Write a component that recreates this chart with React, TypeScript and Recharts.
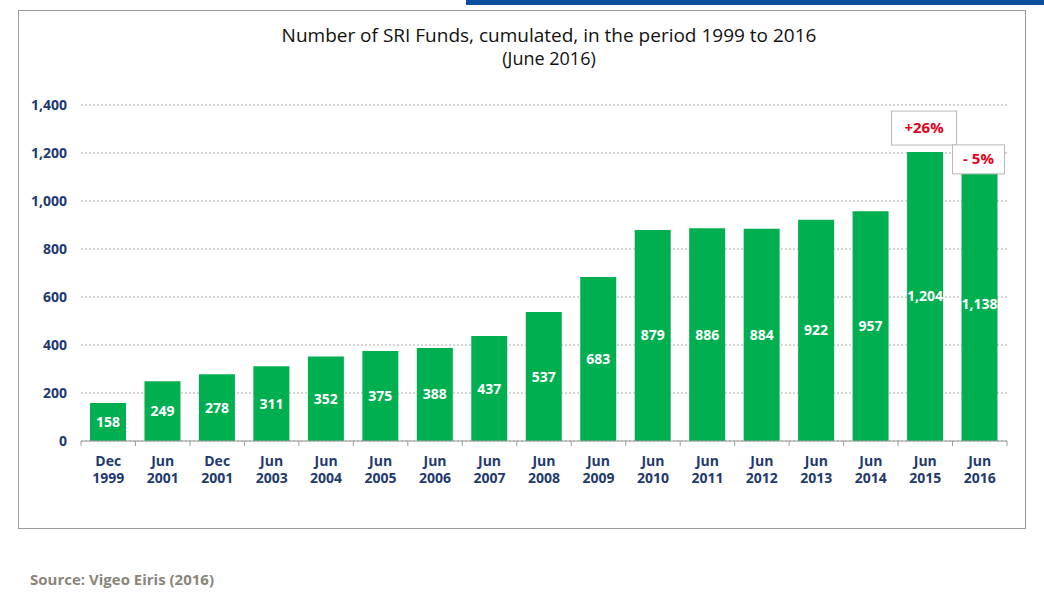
import React from "react"
import { BarChart, Bar, XAxis, YAxis, CartesianGrid, LabelList } from "recharts"

const periods = [
  "Dec 1999", "Jun 2001", "Dec 2001", "Jun 2003", "Jun 2004", "Jun 2005",
  "Jun 2006", "Jun 2007", "Jun 2008", "Jun 2009", "Jun 2010", "Jun 2011",
  "Jun 2012", "Jun 2013", "Jun 2014", "Jun 2015", "Jun 2016",
]
const funds = [158, 249, 278, 311, 352, 375, 388, 437, 537, 683, 879, 886, 884, 922, 957, 1204, 1138]
const changes = ["", "", "", "", "", "", "", "", "", "", "", "", "", "", "", "+26%", "- 5%"]
const yTicks = [0, 200, 400, 600, 800, 1000, 1200, 1400]

const data = periods.map((p, i) => ({ period: p, value: funds[i], change: changes[i] }))

const W = 1044
const H = 592
const PLOT_LEFT = 81
const PLOT_RIGHT = 1007
const PLOT_TOP = 105
const PLOT_BOTTOM = 441
const Y_AXIS_W = 60
const X_AXIS_H = 50
const HALF_BAND = (PLOT_RIGHT - PLOT_LEFT) / periods.length / 2

const NAVY = "#1f3a6e"
const GREEN = "#00b050"
const FONT = "'Open Sans', sans-serif"

const fmt = (v: number) => v.toLocaleString("en-US")

function XTick(props: any) {
  const { x, y, payload, index } = props
  const [a, b] = String(payload.value).split(" ")
  return (
    <g>
      <line x1={x - HALF_BAND} y1={y} x2={x - HALF_BAND} y2={y + 5} stroke="#9a9a9a" />
      {index === periods.length - 1 && (
        <line x1={x + HALF_BAND} y1={y} x2={x + HALF_BAND} y2={y + 5} stroke="#9a9a9a" />
      )}
      <text x={x} y={y + 25} textAnchor="middle" fill={NAVY} fontSize={14} fontWeight="bold" fontFamily={FONT}>
        {a}
      </text>
      <text x={x} y={y + 42} textAnchor="middle" fill={NAVY} fontSize={14} fontWeight="bold" fontFamily={FONT}>
        {b}
      </text>
    </g>
  )
}

function ChangeBox(props: any) {
  const { x, y, width, value, index } = props
  if (!value) return null
  const last = index === periods.length - 1
  const bw = last ? 52 : 65
  const bh = last ? 29 : 34
  const bottom = last ? y + 6 : y - 7
  const cx = x + width / 2 - 1
  return (
    <g>
      <rect x={cx - bw / 2} y={bottom - bh} width={bw} height={bh} fill="#fff" stroke="#b8b8b8" />
      <text x={cx} y={bottom - bh / 2 + 5} textAnchor="middle" fill="#e3001b" fontSize={15} fontWeight="bold" fontFamily={FONT}>
        {value}
      </text>
    </g>
  )
}

export default function App() {
  return (
    <div style={{ position: "absolute", left: 0, top: 0, width: W, height: H, background: "#fff", fontFamily: FONT }}>
      <div style={{ position: "absolute", left: 466, top: 0, width: W - 466, height: 5, background: "#0d4f9f" }} />
      <div style={{ position: "absolute", left: 18, top: 10, width: 1006, height: 517, border: "1px solid #9a9a9a" }} />
      <div style={{ position: "absolute", left: 0, width: 1098, top: 25, textAlign: "center", fontSize: 19, color: "#111", lineHeight: "21px" }}>
        Number of SRI Funds, cumulated, in the period 1999 to 2016
      </div>
      <div style={{ position: "absolute", left: 0, width: 1098, top: 49, textAlign: "center", fontSize: 18, color: "#111", lineHeight: "19px" }}>
        (June 2016)
      </div>
      <div style={{ position: "absolute", left: 30, top: 569, fontSize: 15, fontWeight: "bold", color: "#8a8579" }}>
        Source: Vigeo Eiris (2016)
      </div>
      <div style={{ position: "absolute", left: 0, top: 0 }}>
        <BarChart
          width={W}
          height={H}
          data={data}
          margin={{
            top: PLOT_TOP,
            left: PLOT_LEFT - Y_AXIS_W,
            right: W - PLOT_RIGHT,
            bottom: H - PLOT_BOTTOM - X_AXIS_H,
          }}
        >
          <CartesianGrid vertical={false} stroke="#a8a8a8" strokeDasharray="2 2" />
          <XAxis
            dataKey="period"
            height={X_AXIS_H}
            interval={0}
            tickLine={false}
            tickSize={0}
            tickMargin={0}
            stroke="#9a9a9a"
            tick={<XTick />}
          />
          <YAxis
            width={Y_AXIS_W}
            domain={[0, 1400]}
            ticks={yTicks}
            axisLine={false}
            tickLine={false}
            tickMargin={8}
            tickFormatter={fmt}
            tick={{ fill: NAVY, fontSize: 14, fontWeight: "bold", fontFamily: FONT }}
          />
          <Bar dataKey="value" fill={GREEN} barSize={36} isAnimationActive={false}>
            <LabelList
              dataKey="value"
              position="center"
              formatter={(v: any) => fmt(Number(v))}
              fill="#fff"
              fontSize={14}
              fontWeight="bold"
              fontFamily={FONT}
            />
            <LabelList dataKey="change" content={<ChangeBox />} />
          </Bar>
        </BarChart>
      </div>
    </div>
  )
}
